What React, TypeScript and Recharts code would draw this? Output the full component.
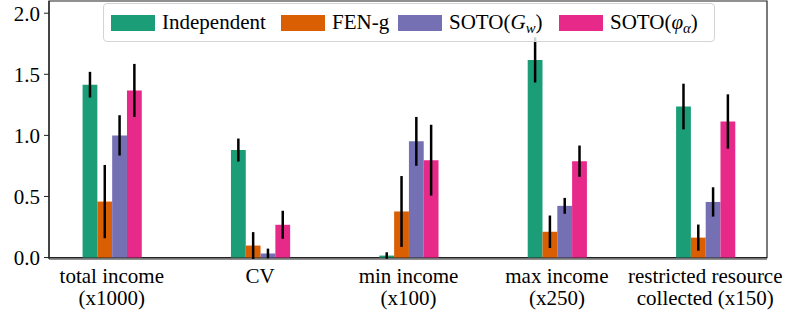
import React from 'react';
import { Bar, BarChart, ErrorBar, ReferenceArea, XAxis, YAxis } from 'recharts';

// group labels, split in lines
const categories: string[][] = [
  ['total income', '(x1000)'],
  ['CV'],
  ['min income', '(x100)'],
  ['max income', '(x250)'],
  ['restricted resource', 'collected (x150)'],
];

const independent = [1.415, 0.88, 0.016, 1.618, 1.236];
const independentErr = [0.105, 0.094, 0.027, 0.185, 0.187];
const fenG = [0.458, 0.098, 0.377, 0.211, 0.163];
const fenGErr = [0.3, 0.11, 0.29, 0.133, 0.107];
const sotoG = [1.0, 0.033, 0.951, 0.423, 0.455];
const sotoGErr = [0.165, 0.04, 0.2, 0.065, 0.12];
const sotoPhi = [1.368, 0.268, 0.797, 0.789, 1.114];
const sotoPhiErr = [0.217, 0.115, 0.29, 0.128, 0.222];

const yTicks = [0, 0.5, 1.0, 1.5, 2.0];

const COLORS = ['#1b9e77', '#d95f02', '#7570b3', '#e7298a'];
const FONT = 'Tinos, "Liberation Serif", FreeSerif, "Times New Roman"';

const data = categories.map((_, i) => ({
  x: i,
  ind: independent[i],
  indErr: independentErr[i],
  fen: fenG[i],
  fenErr: fenGErr[i],
  sg: sotoG[i],
  sgErr: sotoGErr[i],
  sp: sotoPhi[i],
  spErr: sotoPhiErr[i],
}));

const series = [
  { key: 'ind', err: 'indErr', color: COLORS[0] },
  { key: 'fen', err: 'fenErr', color: COLORS[1] },
  { key: 'sg', err: 'sgErr', color: COLORS[2] },
  { key: 'sp', err: 'spErr', color: COLORS[3] },
];

const X_DOMAIN: [number, number] = [-0.423, 4.416];

const CategoryTick = (props: any) => {
  const { x, y, payload } = props;
  const lines = categories[payload.value] || [];
  return (
    <text x={x} y={y} textAnchor="middle" fontFamily={FONT} fontSize={21} fill="#000">
      {lines.map((l, i) => (
        <tspan key={i} x={x} dy={i === 0 ? 16 : 21.7}>
          {l}
        </tspan>
      ))}
    </text>
  );
};

const Sub = ({ children }: { children: React.ReactNode }) => (
  <span style={{ fontSize: '0.7em', position: 'relative', top: '0.3em', fontStyle: 'italic' }}>{children}</span>
);

const legendItems: { label: React.ReactNode; width: number }[] = [
  { label: 'Independent', width: 170 },
  { label: 'FEN-g', width: 117 },
  { label: <>SOTO(<i>G</i><Sub>w</Sub>)</>, width: 161 },
  { label: <>SOTO(<i>φ</i><Sub>α</Sub>)</>, width: 150 },
];

const LegendBox = () => (
  <div
    style={{
      position: 'absolute',
      left: 103,
      top: 3,
      display: 'flex',
      alignItems: 'center',
      boxSizing: 'border-box',
      width: 612,
      height: 39,
      paddingLeft: 7,
      border: '1px solid #d4d4d4',
      borderRadius: 4,
      background: 'rgba(255,255,255,0.8)',
      fontFamily: FONT,
      fontSize: 21,
      color: '#000',
    }}
  >
    {legendItems.map((it, i) => (
      <div key={i} style={{ display: 'flex', alignItems: 'center', width: it.width, flex: 'none' }}>
        <span style={{ width: 44, height: 16, background: COLORS[i], marginRight: 7, flex: 'none' }} />
        <span style={{ whiteSpace: 'nowrap', fontFamily: FONT }}>{it.label}</span>
      </div>
    ))}
  </div>
);

export default function App() {
  return (
    <div style={{ position: 'absolute', left: 0, top: 0, width: 790, height: 315, background: '#fff', fontFamily: FONT }}>
      <BarChart width={790} height={315} data={data} barGap={0} margin={{ top: 1, right: 23, bottom: 0, left: 0 }}>
        <XAxis
          dataKey="x"
          type="number"
          domain={X_DOMAIN}
          allowDataOverflow
          ticks={[0, 1, 2, 3, 4]}
          tick={<CategoryTick />}
          tickLine={false}
          axisLine={{ stroke: '#222', strokeWidth: 1.2 }}
          height={56}
          interval={0}
        />
        <YAxis
          type="number"
          domain={[0, 2.1]}
          ticks={yTicks}
          tickFormatter={(v: number) => v.toFixed(1)}
          width={49}
          tickSize={5}
          tickMargin={4}
          tickLine={{ stroke: '#222' }}
          axisLine={{ stroke: '#222', strokeWidth: 1.2 }}
          tick={{ fill: '#000', fontSize: 21, fontFamily: FONT }}
        />
        <ReferenceArea
          x1={X_DOMAIN[0]}
          x2={X_DOMAIN[1]}
          y1={0}
          y2={2.1}
          fill="none"
          stroke="#222"
          strokeWidth={1.2}
          ifOverflow="visible"
        />
        {series.map((s) => (
          <Bar key={s.key} dataKey={s.key} fill={s.color} barSize={14.8} isAnimationActive={false}>
            <ErrorBar dataKey={s.err} width={0} stroke="#000" strokeWidth={2.5} direction="y" />
          </Bar>
        ))}
      </BarChart>
      <LegendBox />
    </div>
  );
}
